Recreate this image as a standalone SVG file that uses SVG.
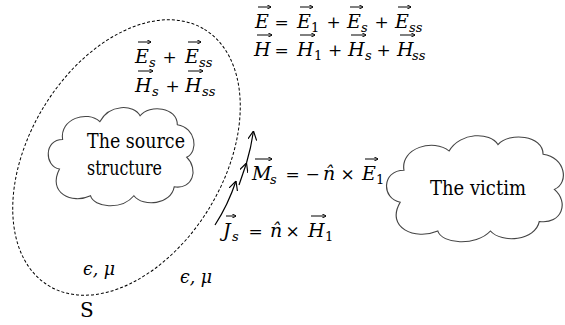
<svg xmlns="http://www.w3.org/2000/svg" width="565" height="325" viewBox="0 0 565 325">
<defs>
<style>
text{fill:#000;font-family:"DejaVu Serif",serif}
.m{font-size:19px}
.i{font-style:italic}
.s{font-size:13px}
.o{font-size:17px}
.t{font-size:20px}
.cloud{fill:#fff;stroke:#444}
.dash{fill:none;stroke:#000;stroke-width:1;stroke-dasharray:3,2}
.ln{fill:none;stroke:#000;stroke-width:1.2}
.v{fill:none;stroke:#000;stroke-width:1}
</style>
<marker id="ah" viewBox="0 0 10 10" refX="10" refY="5" markerWidth="9" markerHeight="9" orient="auto" markerUnits="userSpaceOnUse">
<path d="M0,0 L10,5 L0,10" fill="none" stroke="#000" stroke-width="1.3"/>
</marker>
<marker id="va" viewBox="0 0 6 6" refX="5.5" refY="3" markerWidth="4.5" markerHeight="4.5" orient="auto" markerUnits="userSpaceOnUse">
<path d="M0,0 L6,3 L0,6" fill="none" stroke="#000" stroke-width="1.2"/>
</marker>
<path id="cl" d="M 10 46 C 0 44, 0 26, 12 26 C 10 12, 28 6, 36 14 C 42 2, 58 2, 62 10 C 68 2, 86 4, 86 16 C 98 18, 100 34, 92 38 C 100 46, 96 60, 84 58 C 82 70, 64 72, 58 64 C 50 74, 32 72, 30 64 C 18 70, 2 62, 10 46 Z"/>
</defs>

<g id="surface">
<ellipse class="dash" cx="126.5" cy="157.5" rx="150" ry="97" transform="rotate(-58.7 126.5 157.5)"/>
<text class="t" x="80" y="317">S</text>
</g>

<g id="source">
<use href="#cl" class="cloud" transform="translate(44,101) scale(1.55,1.48)" style="stroke-width:0.7"/>
<text class="t" x="87" y="148" textLength="98" lengthAdjust="spacingAndGlyphs">The source</text>
<text class="t" x="87" y="175" textLength="75" lengthAdjust="spacingAndGlyphs">structure</text>
</g>

<g id="victim">
<use href="#cl" class="cloud" transform="translate(381.4,128.6) scale(1.88,1.6)" style="stroke-width:0.62"/>
<text class="t" x="430" y="195" textLength="96" lengthAdjust="spacingAndGlyphs">The victim</text>
</g>

<g id="labels">
<text class="m"><tspan class="i" x="255" y="28">E</tspan><tspan class="o" x="281.5" y="28" text-anchor="middle">=</tspan><tspan class="i" x="297" y="28">E</tspan><tspan class="s" x="311" y="32">1</tspan><tspan class="o" x="333.5" y="28" text-anchor="middle">+</tspan><tspan class="i" x="347" y="28">E</tspan><tspan class="s i" x="361" y="32">s</tspan><tspan class="o" x="381.5" y="28" text-anchor="middle">+</tspan><tspan class="i" x="395" y="28">E</tspan><tspan class="s i" x="409" y="32">ss</tspan></text>
<text class="m"><tspan class="i" x="254" y="56">H</tspan><tspan class="o" x="281.5" y="56" text-anchor="middle">=</tspan><tspan class="i" x="297" y="56">H</tspan><tspan class="s" x="314" y="60">1</tspan><tspan class="o" x="335" y="56" text-anchor="middle">+</tspan><tspan class="i" x="348" y="56">H</tspan><tspan class="s i" x="365" y="60">s</tspan><tspan class="o" x="383.5" y="56" text-anchor="middle">+</tspan><tspan class="i" x="397" y="56">H</tspan><tspan class="s i" x="412" y="60">ss</tspan></text>
<text class="m"><tspan class="i" x="135" y="63">E</tspan><tspan class="s i" x="149" y="67">s</tspan><tspan class="o" x="169.5" y="63" text-anchor="middle">+</tspan><tspan class="i" x="185" y="63">E</tspan><tspan class="s i" x="199" y="67">ss</tspan></text>
<text class="m"><tspan class="i" x="135" y="92">H</tspan><tspan class="s i" x="152" y="96">s</tspan><tspan class="o" x="172.5" y="92" text-anchor="middle">+</tspan><tspan class="i" x="185" y="92">H</tspan><tspan class="s i" x="202" y="96">ss</tspan></text>
<text class="m"><tspan class="i" x="252" y="180">M</tspan><tspan class="s i" x="270" y="184">s</tspan><tspan class="o" x="292.5" y="180" text-anchor="middle">=</tspan><tspan class="o" x="312.5" y="180" text-anchor="middle">−</tspan><tspan class="i" x="323" y="180">n̂</tspan><tspan class="o" x="347.5" y="180" text-anchor="middle">×</tspan><tspan class="i" x="362" y="180">E</tspan><tspan class="s" x="376" y="184">1</tspan></text>
<text class="m"><tspan class="i" x="223" y="237">J</tspan><tspan class="s i" x="232" y="241">s</tspan><tspan class="o" x="255.5" y="237" text-anchor="middle">=</tspan><tspan class="i" x="270" y="237">n̂</tspan><tspan class="o" x="292.5" y="237" text-anchor="middle">×</tspan><tspan class="i" x="308" y="237">H</tspan><tspan class="s" x="325" y="241">1</tspan></text>
<text class="m i" x="83" y="275" textLength="32" lengthAdjust="spacingAndGlyphs">ϵ, μ</text>
<text class="m i" x="180" y="283" textLength="32" lengthAdjust="spacingAndGlyphs">ϵ, μ</text>
</g>

<g id="vector-accents">
<path class="v" marker-end="url(#va)" d="M258,7h13"/>
<path class="v" marker-end="url(#va)" d="M300,7h13"/>
<path class="v" marker-end="url(#va)" d="M350,7h13"/>
<path class="v" marker-end="url(#va)" d="M398,7h13"/>
<path class="v" marker-end="url(#va)" d="M257,35h15"/>
<path class="v" marker-end="url(#va)" d="M300,35h15"/>
<path class="v" marker-end="url(#va)" d="M351,35h15"/>
<path class="v" marker-end="url(#va)" d="M400,35h15"/>
<path class="v" marker-end="url(#va)" d="M138,42h13"/>
<path class="v" marker-end="url(#va)" d="M188,42h13"/>
<path class="v" marker-end="url(#va)" d="M138,71h15"/>
<path class="v" marker-end="url(#va)" d="M188,71h15"/>
<path class="v" marker-end="url(#va)" d="M255,159h17"/>
<path class="v" marker-end="url(#va)" d="M365,159h13"/>
<path class="v" marker-end="url(#va)" d="M226,216h10"/>
<path class="v" marker-end="url(#va)" d="M311,216h15"/>
</g>

<g id="connectors">
<path class="ln" d="M215,225 Q228,205 236,181" marker-end="url(#ah)"/>
<path class="ln" d="M239,185 L246.5,163" marker-end="url(#ah)"/>
<path class="ln" d="M246.5,163 Q251,148 253.5,131" marker-end="url(#ah)"/>
</g>
</svg>
